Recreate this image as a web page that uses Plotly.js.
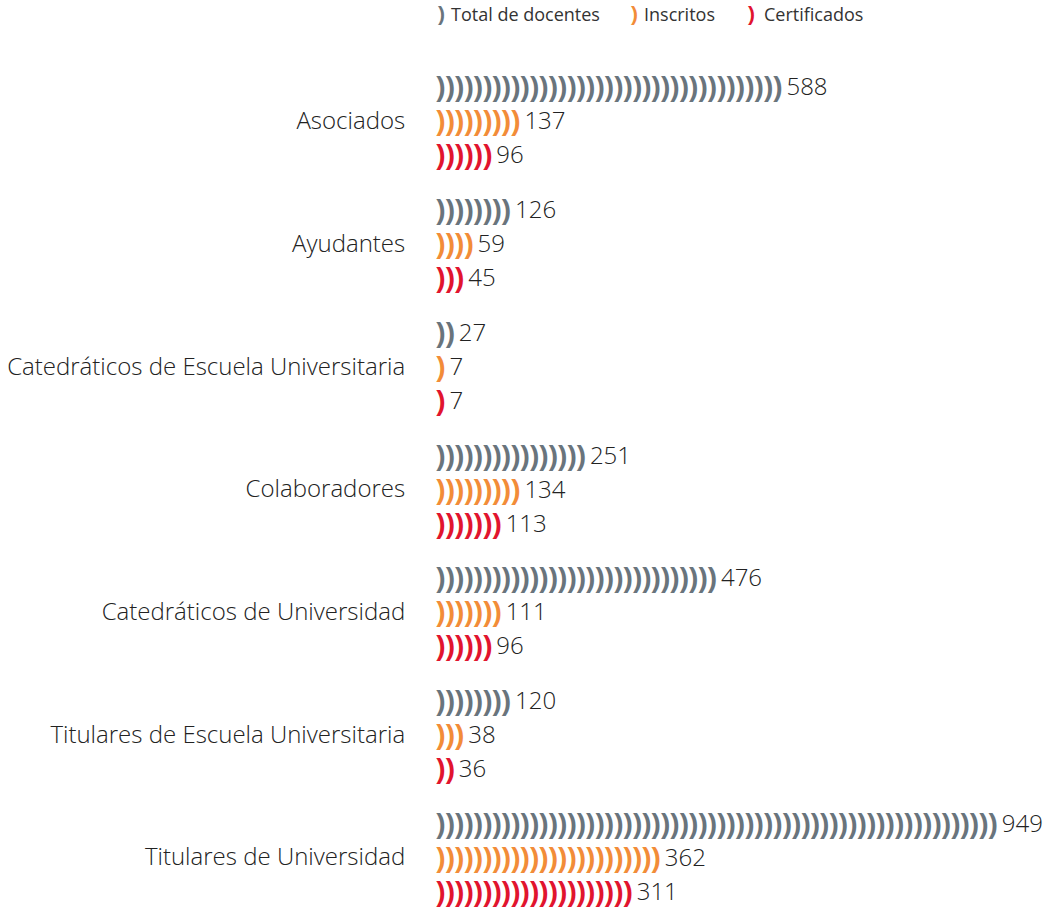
<!DOCTYPE html>
<html><head><meta charset="utf-8">
<script src="https://cdn.plot.ly/plotly-3.0.1.min.js"></script>
<style>html,body{margin:0;padding:0;background:#fff}#chart{width:1043px;height:909px}</style>
</head><body><div id="chart"></div>
<script>
const categories = ["Asociados","Ayudantes","Catedráticos de Escuela Universitaria","Colaboradores","Catedráticos de Universidad","Titulares de Escuela Universitaria","Titulares de Universidad"];
const seriesNames = ["Total de docentes","Inscritos","Certificados"];
const totalDocentes = [588,126,27,251,476,120,949];
const inscritos = [137,59,7,134,111,38,362];
const certificados = [96,45,7,113,96,36,311];
const seriesColors = ["#69747c","#f28c38","#e1142e"];
const unitPerGlyph = [15.8, 15.1, 15.1];

const values = [totalDocentes, inscritos, certificados];
const rowOffset = [-0.255, 0.022, 0.299];
const glyphSize = 28;
const glyphPitch = 9.36;
const glyphFirstX = 4;
const plotLeft = 437, plotW = 1043 - 437;
const plotTop = 47.4, plotH = 909 - 47.4 - 9;

const traces = [];
values.forEach((vals, s) => {
  const gx = [], gy = [], lx = [], ly = [], lt = [];
  vals.forEach((v, i) => {
    const n = Math.max(1, Math.round(v / unitPerGlyph[s]));
    const y = i + rowOffset[s];
    for (let k = 0; k < n; k++) { gx.push(glyphFirstX + k * glyphPitch); gy.push(y); }
    lx.push(glyphFirstX + (n - 1) * glyphPitch + 8.5); ly.push(y); lt.push(String(v));
  });
  traces.push({type:'scatter', mode:'text', x:gx, y:gy, text:gx.map(() => ')'),
    textposition:'middle center',
    textfont:{family:'Liberation Sans', size:glyphSize, color:seriesColors[s], weight:'bold'},
    hoverinfo:'skip', showlegend:false, cliponaxis:false});
  traces.push({type:'scatter', mode:'text', x:lx, y:ly, text:lt,
    textposition:'middle right',
    textfont:{family:'Open Sans', size:24, color:'#222222', weight:300},
    hoverinfo:'skip', showlegend:false, cliponaxis:false});
});

const legendParenX = [436, 629, 746];
const legendTextX = [449, 642, 762];
const legendY = 1 + (plotTop - 14) / plotH;
const annotations = [];
seriesNames.forEach((name, s) => {
  annotations.push({xref:'paper', yref:'paper', x:(legendParenX[s] - plotLeft) / plotW, y:legendY,
    xanchor:'left', yanchor:'middle', showarrow:false,
    text:'<b>)</b>', font:{family:'Liberation Sans', size:21, color:seriesColors[s]}});
  annotations.push({xref:'paper', yref:'paper', x:(legendTextX[s] - plotLeft) / plotW, y:legendY,
    xanchor:'left', yanchor:'middle', showarrow:false,
    text:name, font:{family:'Open Sans', size:18, color:'#333333'}});
});

const layout = {
  width:1043, height:909,
  margin:{l:437, r:0, t:plotTop, b:9, pad:0},
  paper_bgcolor:'#ffffff', plot_bgcolor:'#ffffff',
  showlegend:false,
  xaxis:{range:[0, plotW], visible:false, fixedrange:true},
  yaxis:{range:[6.35, -0.6], tickvals:categories.map((c, i) => i), ticktext:categories,
    showgrid:false, zeroline:false, showline:false, ticks:'outside', ticklen:26,
    tickcolor:'rgba(0,0,0,0)',
    tickfont:{family:'Open Sans', size:24, color:'#222222', weight:300}, fixedrange:true},
  annotations:annotations
};
Plotly.newPlot('chart', traces, layout, {displayModeBar:false, staticPlot:true});
</script></body></html>
